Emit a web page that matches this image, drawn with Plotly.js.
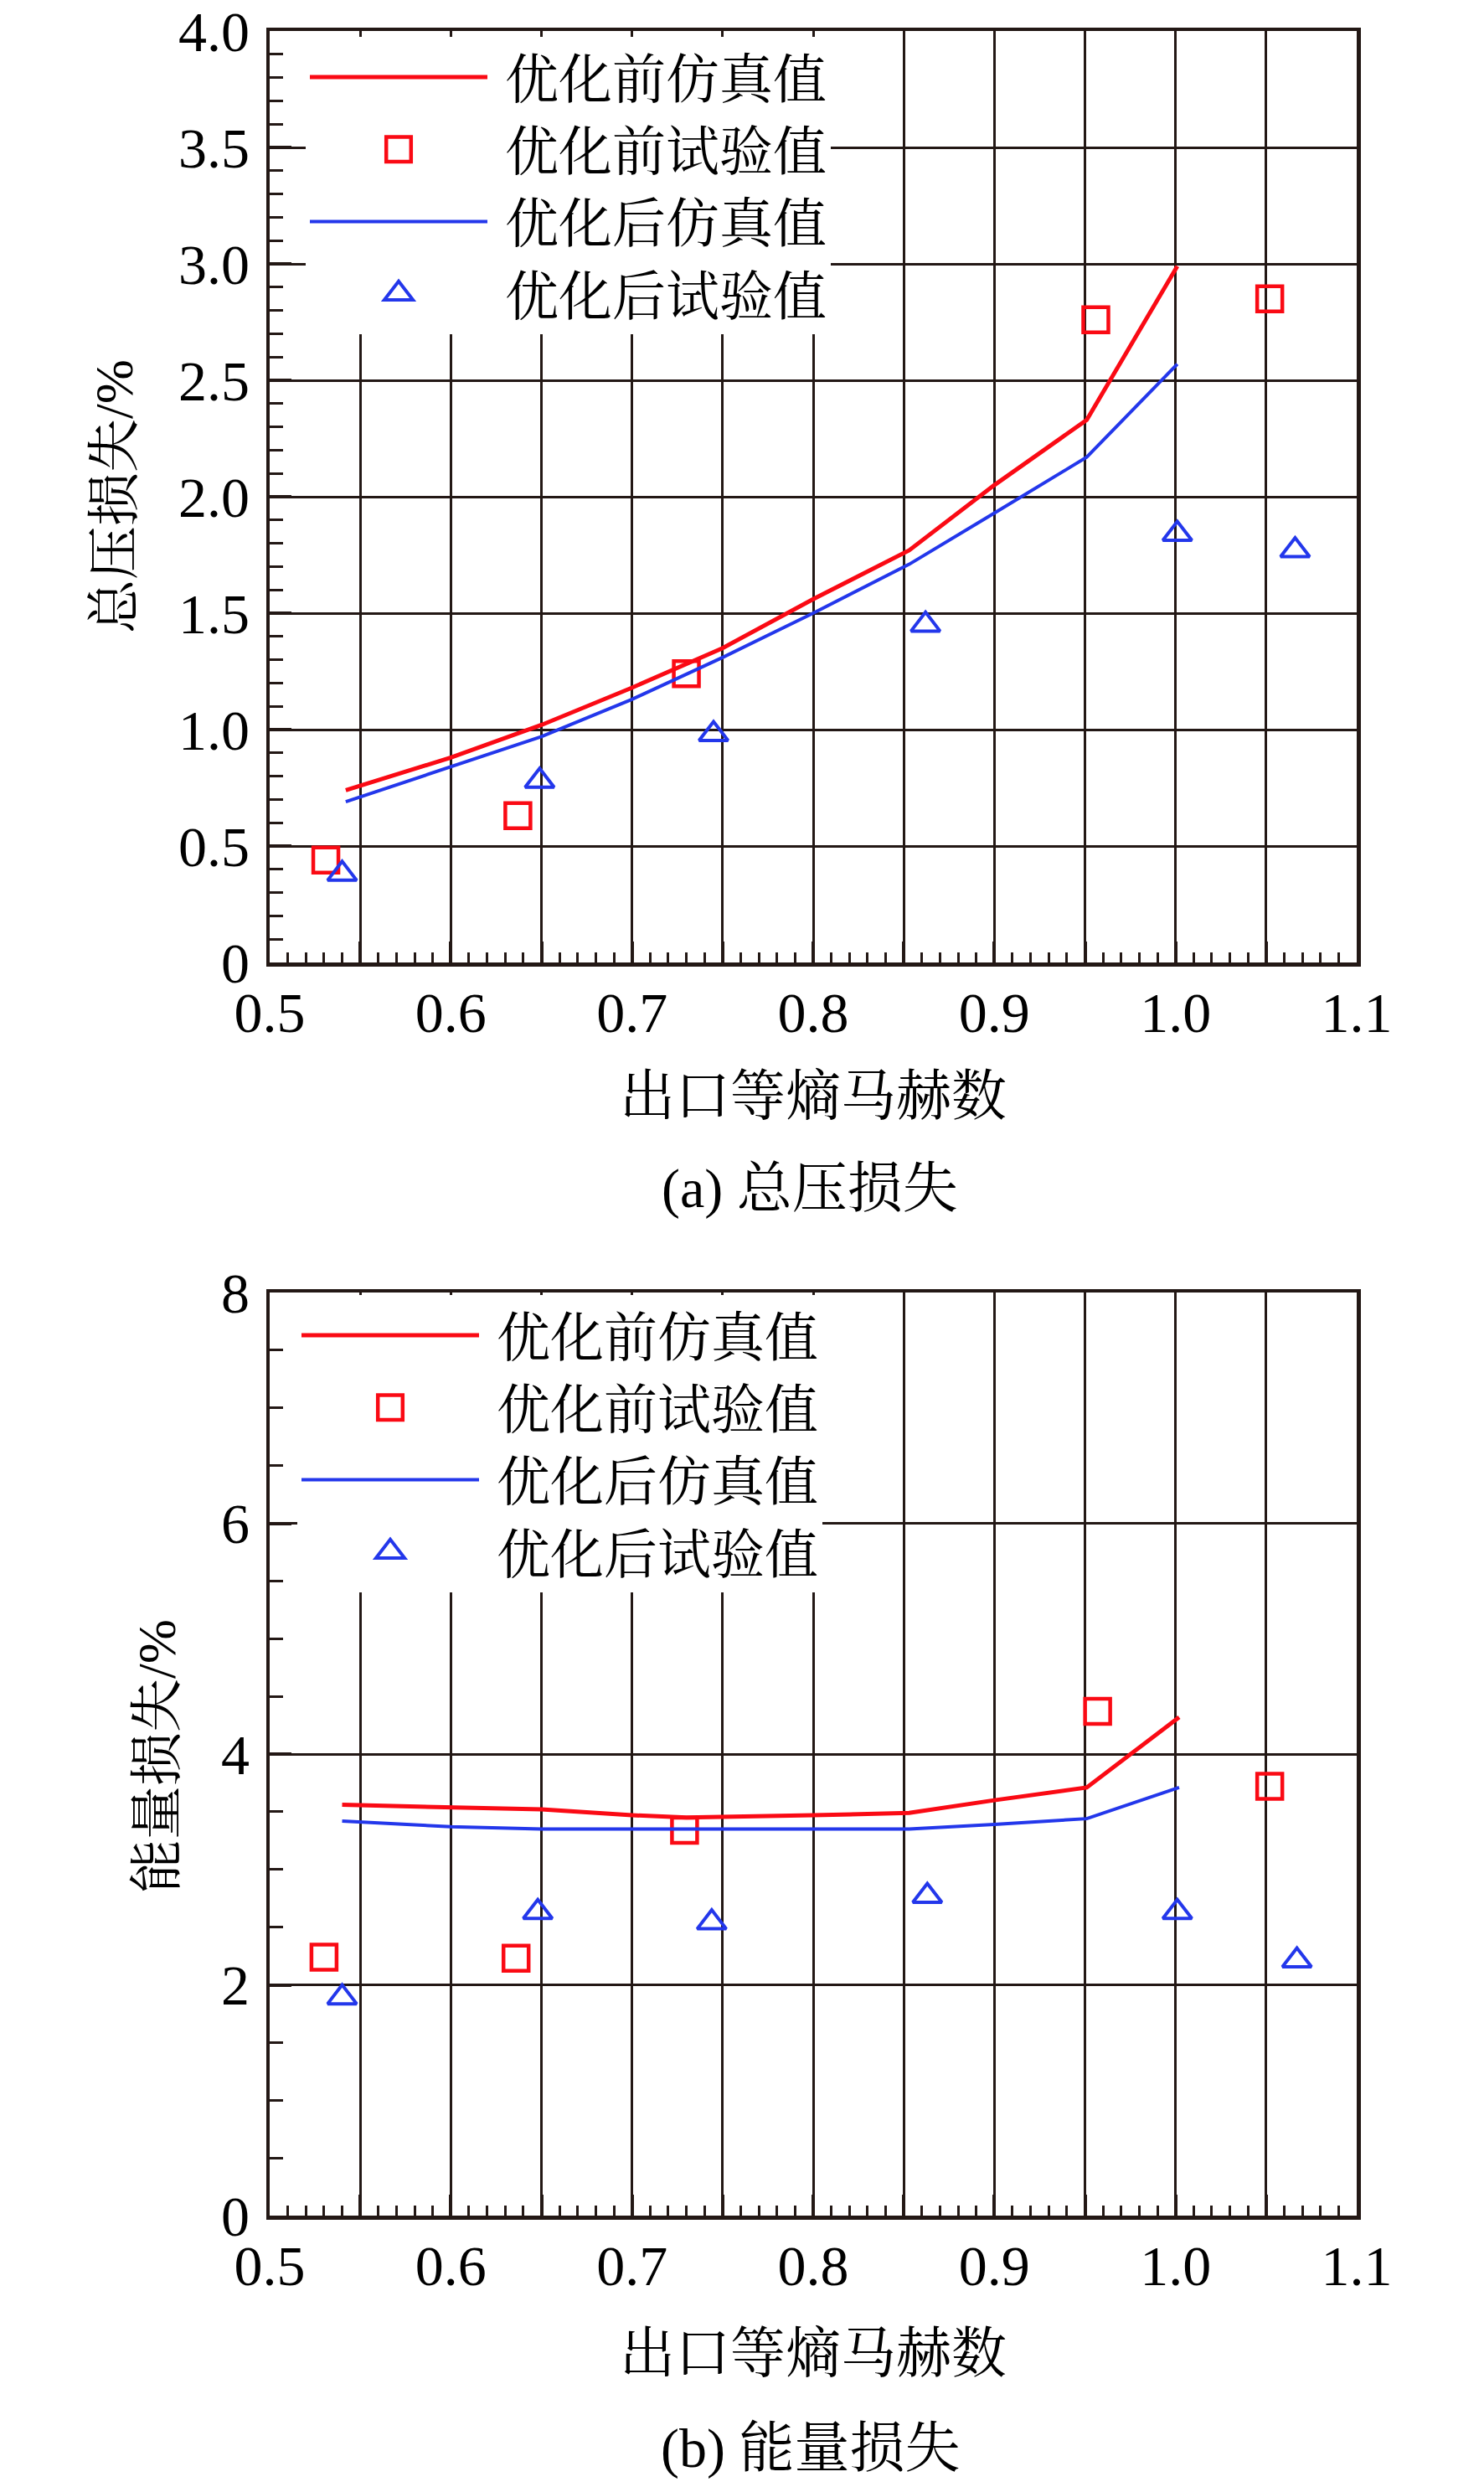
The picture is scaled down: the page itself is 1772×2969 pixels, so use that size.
<!DOCTYPE html>
<html>
<head>
<meta charset="utf-8">
<script src="https://cdn.plot.ly/plotly-3.0.1.min.js"></script>
<style>
  html, body { margin: 0; padding: 0; background: #fff; }
  #chart { width: 1772px; height: 2969px; }
</style>
</head>
<body>
<div id="chart"></div>
<script>
// (a) total pressure loss
var aSimBeforeX = [0.542, 0.6, 0.65, 0.7, 0.75, 0.8, 0.853, 0.9, 0.951, 1.001];
var aSimBeforeY = [0.74, 0.88, 1.02, 1.18, 1.35, 1.56, 1.77, 2.05, 2.33, 2.99];
var aExpBeforeX = [0.531, 0.637, 0.730, 0.956, 1.052];
var aExpBeforeY = [0.44, 0.63, 1.24, 2.76, 2.85];
var aSimAfterX = [0.542, 0.6, 0.65, 0.7, 0.75, 0.8, 0.853, 0.9, 0.951, 1.001];
var aSimAfterY = [0.69, 0.84, 0.97, 1.13, 1.31, 1.50, 1.71, 1.93, 2.17, 2.57];
var aExpAfterX = [0.540, 0.649, 0.745, 0.862, 1.001, 1.066];
var aExpAfterY = [0.38, 0.78, 0.98, 1.45, 1.84, 1.77];

// (b) energy loss
var bSimBeforeX = [0.54, 0.6, 0.65, 0.7, 0.73, 0.8, 0.853, 0.9, 0.951, 1.002];
var bSimBeforeY = [3.56, 3.54, 3.52, 3.47, 3.45, 3.47, 3.49, 3.60, 3.71, 4.32];
var bExpBeforeX = [0.530, 0.636, 0.729, 0.957, 1.052];
var bExpBeforeY = [2.24, 2.23, 3.34, 4.37, 3.72];
var bSimAfterX = [0.54, 0.6, 0.65, 0.7, 0.8, 0.853, 0.9, 0.951, 1.002];
var bSimAfterY = [3.42, 3.37, 3.35, 3.35, 3.35, 3.35, 3.39, 3.44, 3.71];
var bExpAfterX = [0.540, 0.648, 0.744, 0.863, 1.001, 1.067];
var bExpAfterY = [1.89, 2.63, 2.54, 2.77, 2.63, 2.21];

var names = ['优化前仿真值', '优化前试验值', '优化后仿真值', '优化后试验值'];
var xTickVals = [0.5, 0.55, 0.6, 0.65, 0.7, 0.75, 0.8, 0.85, 0.9, 0.95, 1.0, 1.05, 1.1];
var xTickText = ['0.5', '', '0.6', '', '0.7', '', '0.8', '', '0.9', '', '1.0', '', '1.1'];
var aYTickVals = [0, 0.5, 1, 1.5, 2, 2.5, 3, 3.5, 4];
var aYTickText = ['0', '0.5', '1.0', '1.5', '2.0', '2.5', '3.0', '3.5', '4.0'];
var bYTickVals = [0, 2, 4, 6, 8];
var bYTickText = ['0', '2', '4', '6', '8'];

var red = 'rgb(250,10,20)';
var blue = 'rgb(35,55,235)';
var ink = '#231815';
var FONT = '"Liberation Serif", "Times New Roman", "Noto Serif CJK SC", "Noto Sans CJK SC", serif';

var W = 1772, H = 2969;
function py(pix) { return 1 - pix / H; }

var traces = [];
function addSet(sx, sy, ex, ey, sx2, sy2, ex2, ey2, xa, ya, leg) {
    // leading no-break space widens the gap between symbol and label
    traces.push({ x: sx, y: sy, xaxis: xa, yaxis: ya, legend: leg, mode: 'lines', name: '\u00a0' + names[0],
        line: { color: red, width: 5 } });
    traces.push({ x: ex, y: ey, xaxis: xa, yaxis: ya, legend: leg, mode: 'markers', name: '\u00a0' + names[1],
        marker: { symbol: 'square-open', size: 30, color: red, line: { width: 4.5, color: red } } });
    traces.push({ x: sx2, y: sy2, xaxis: xa, yaxis: ya, legend: leg, mode: 'lines', name: '\u00a0' + names[2],
        line: { color: blue, width: 4 } });
    traces.push({ x: ex2, y: ey2, xaxis: xa, yaxis: ya, legend: leg, mode: 'markers', name: '\u00a0' + names[3],
        marker: { symbol: 'triangle-up-open', size: 30, color: blue, line: { width: 4, color: blue } } });
}
addSet(aSimBeforeX, aSimBeforeY, aExpBeforeX, aExpBeforeY, aSimAfterX, aSimAfterY, aExpAfterX, aExpAfterY, 'x', 'y', 'legend');
addSet(bSimBeforeX, bSimBeforeY, bExpBeforeX, bExpBeforeY, bSimAfterX, bSimAfterY, bExpAfterX, bExpAfterY, 'x2', 'y2', 'legend2');

function xAxis(anchor) {
    return {
        domain: [322 / W, 1620 / W], anchor: anchor, range: [0.5, 1.1],
        tickmode: 'array', tickvals: xTickVals, ticktext: xTickText,
        ticks: 'inside', ticklen: 25, tickwidth: 4, tickcolor: ink,
        minor: { tick0: 0.5, dtick: 0.01, ticks: 'inside', ticklen: 12, tickwidth: 3, tickcolor: ink, showgrid: false },
        showgrid: true, gridcolor: ink, gridwidth: 3,
        showline: true, linecolor: ink, linewidth: 4.5, mirror: true, zeroline: false,
        ticklabelstandoff: -3, ticklabeloverflow: 'allow',
        tickfont: { family: FONT, size: 68, color: '#000' }
    };
}
function yAxis(anchor, top, bottom, range, vals, text, minorStep) {
    return {
        domain: [py(bottom), py(top)], anchor: anchor, range: range,
        tickmode: 'array', tickvals: vals, ticktext: text,
        ticks: 'inside', ticklen: 26, tickwidth: 4, tickcolor: ink,
        minor: { tick0: 0, dtick: minorStep, ticks: 'inside', ticklen: 16, tickwidth: 3, tickcolor: ink, showgrid: false },
        showgrid: true, gridcolor: ink, gridwidth: 3,
        showline: true, linecolor: ink, linewidth: 4.5, mirror: true, zeroline: false,
        ticklabelstandoff: 6, ticklabeloverflow: 'allow',
        tickfont: { family: FONT, size: 68, color: '#000' }
    };
}

var legendStyle = {
    bgcolor: '#fff', borderwidth: 0, xanchor: 'left', yanchor: 'top',
    itemwidth: 212, itemsizing: 'trace',
    font: { family: FONT, size: 64, color: '#000' }
};

function label(text, xPix, yPix, size, angle) {
    return { text: text, x: xPix / W, y: py(yPix), xref: 'paper', yref: 'paper',
        xanchor: 'center', yanchor: 'middle', showarrow: false, textangle: angle || 0,
        font: { family: FONT, size: size, color: '#000' } };
}

var layout = {
    width: W, height: H,
    margin: { l: 0, r: 0, t: 0, b: 0 },
    paper_bgcolor: '#fff', plot_bgcolor: '#fff',
    showlegend: true,
    xaxis: xAxis('y'),
    yaxis: yAxis('x', 37, 1149, [0, 4], aYTickVals, aYTickText, 0.1),
    xaxis2: xAxis('y2'),
    yaxis2: yAxis('x2', 1543, 2645, [0, 8], bYTickVals, bYTickText, 0.5),
    legend: Object.assign({}, legendStyle, { x: 365 / W, y: py(44) }),
    legend2: Object.assign({}, legendStyle, { x: 355 / W, y: py(1546) }),
    annotations: [
        label('出口等熵马赫数', 971, 1308, 66),
        label('(a) 总压损失', 967, 1419, 66),
        label('总压损失/%', 137, 593, 64, -90),
        label('出口等熵马赫数', 971, 2809, 66),
        label('(b) 能量损失', 967, 2923, 66),
        label('能量损失/%', 187, 2097, 64, -90)
    ]
};

Plotly.newPlot('chart', traces, layout, { staticPlot: true }).then(function (gd) {
    // legend symbols are capped at 16px; enlarge them to the plotted marker size
    gd.querySelectorAll('.legendpoints path.scatterpts').forEach(function (p) {
        var t = p.getAttribute('transform') || '';
        p.setAttribute('transform', t + ' scale(1.85)');
        p.style.vectorEffect = 'non-scaling-stroke';
    });
});
</script>
</body>
</html>
